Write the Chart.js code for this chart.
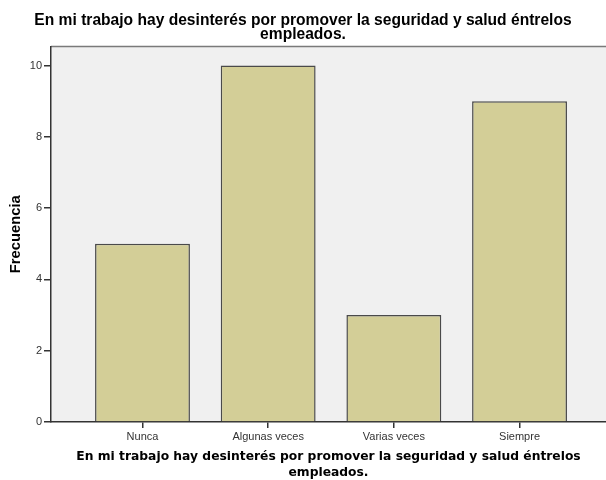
<!DOCTYPE html>
<html>
<head>
<meta charset="utf-8">
<script src="https://cdn.jsdelivr.net/npm/chart.js@4"></script>
<style>
  html, body { margin: 0; padding: 0; background: #ffffff; }
  #wrap { width: 606px; height: 480px; }
</style>
</head>
<body>
<div id="wrap"><canvas id="grafico" width="606" height="480"></canvas></div>
<script>
// datos
const categorias = ['Nunca', 'Algunas veces', 'Varias veces', 'Siempre'];
const frecuencias = [5, 10, 3, 9];
const titulo = ['En mi trabajo hay desinterés por promover la seguridad y salud éntrelos', 'empleados.'];
const tituloEjeY = 'Frecuencia';
const ticksY = [0, 2, 4, 6, 8, 10];

// fondo gris del area del grafico (estilo SPSS)
const fondoArea = {
  id: 'fondoArea',
  beforeDraw(chart) {
    const { ctx, chartArea: a } = chart;
    ctx.save();
    ctx.fillStyle = '#f0f0f0';
    ctx.fillRect(a.left, a.top, a.right - a.left, a.bottom - a.top);
    ctx.strokeStyle = '#7a7a7a';
    ctx.lineWidth = 1.5;
    ctx.beginPath();
    ctx.moveTo(a.left, a.top);
    ctx.lineTo(a.right, a.top);
    ctx.stroke();
    ctx.restore();
  }
};

const ctx = document.getElementById('grafico').getContext('2d');
const grafico = new Chart(ctx, {
  type: 'bar',
  data: {
    datasets: [{
      data: frecuencias.map((v, i) => ({ x: i + 1, y: v })),
      backgroundColor: '#d3ce97',
      borderColor: '#4a4a4a',
      borderWidth: 1.5,
      categoryPercentage: 1,
      barPercentage: 0.755
    }]
  },
  options: {
    responsive: false,
    animation: false,
    layout: { padding: 0 },
    plugins: {
      legend: { display: false },
      tooltip: { enabled: false },
      title: {
        display: true,
        text: titulo,
        color: '#000',
        font: { family: 'Liberation Sans', size: 15.6, weight: 'bold', lineHeight: 0.9 },
        padding: { top: 14, bottom: 4.5 }
      }
    },
    scales: {
      x: {
        type: 'linear',
        offset: false,
        min: 0.272,
        max: 4.688,
        grid: { display: true, offset: false, drawOnChartArea: false, color: '#333', tickLength: 6, lineWidth: 1.5 },
        border: { display: true, color: '#333', width: 1.5 },
        ticks: {
          stepSize: 1,
          color: '#333',
          font: { family: 'Liberation Sans', size: 11 },
          padding: 2,
          maxRotation: 0,
          callback: v => categorias[v - 1] || ''
        },
        afterBuildTicks: s => { s.ticks = s.ticks.filter(t => Number.isInteger(t.value) && t.value >= 1 && t.value <= categorias.length); },
        afterFit: s => { s.height = 58; },
        title: {
          display: true,
          text: titulo,
          color: '#000',
          font: { family: 'DejaVu Sans', size: 12.3, weight: 'bold', lineHeight: 1.25 },
          padding: { top: 4, bottom: 0 }
        }
      },
      y: {
        min: 0,
        max: 10.53,
        grid: { display: true, drawOnChartArea: false, color: '#333', tickLength: 7, lineWidth: 1.5 },
        border: { display: true, color: '#333', width: 1.5 },
        ticks: {
          color: '#333',
          font: { family: 'Liberation Sans', size: 11 },
          padding: 2
        },
        afterBuildTicks: s => { s.ticks = ticksY.map(v => ({ value: v })); },
        afterFit: s => { s.width = 51; },
        title: {
          display: true,
          text: tituloEjeY,
          color: '#000',
          font: { family: 'Liberation Sans', size: 14.8, weight: 'bold' },
          padding: { top: 7, bottom: 0 }
        }
      }
    }
  },
  plugins: [fondoArea]
});
</script>
</body>
</html>
